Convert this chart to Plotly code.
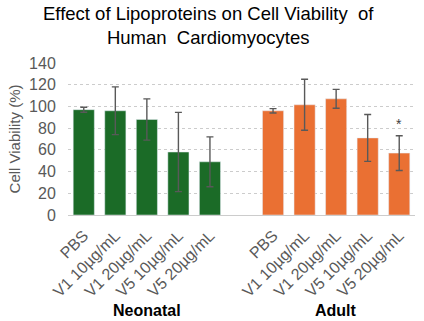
import plotly.graph_objects as go

groups = ["Neonatal", "Adult"]
treatments = ["PBS", "V1 10µg/mL", "V1 20µg/mL", "V5 10µg/mL", "V5 20µg/mL"]
neonatal_vals = [97, 96, 88, 58, 49]
neonatal_err = [2.3, 22, 19, 36.5, 23]
adult_vals = [96, 101.5, 107, 71, 57]
adult_err = [2, 23.5, 8.7, 21.6, 16]
y_ticks = [0, 20, 40, 60, 80, 100, 120, 140]

neo_x = list(range(0, 5))
adu_x = list(range(6, 11))

FONT = "Liberation Sans, Arial, sans-serif"
GRAY = "#595959"

fig = go.Figure()
fig.add_trace(go.Bar(
    x=neo_x, y=neonatal_vals, marker_color="#1b6b27", width=0.67,
    error_y=dict(type="data", array=neonatal_err, color=GRAY, thickness=1.4, width=3.5),
    showlegend=False))
fig.add_trace(go.Bar(
    x=adu_x, y=adult_vals, marker_color="#ea7033", width=0.67,
    error_y=dict(type="data", array=adult_err, color=GRAY, thickness=1.4, width=3.5),
    showlegend=False))

fig.add_annotation(x=adu_x[-1], y=adult_vals[-1] + adult_err[-1] + 2, text="*",
                   showarrow=False, font=dict(family=FONT, size=14, color="#404040"),
                   xref="x", yref="y", yanchor="bottom")

for gx, g in zip([2, 8], groups):
    fig.add_annotation(x=gx, y=0, xref="x", yref="paper", yshift=-95, text="<b>%s</b>" % g,
                       showarrow=False, yanchor="middle",
                       font=dict(family=FONT, size=16, color="black"))

fig.add_annotation(x=0.405, y=1.25, xref="paper", yref="paper",
                   text="Effect of Lipoproteins on Cell Viability  of<br>Human  Cardiomyocytes",
                   showarrow=False, xanchor="center", yanchor="middle",
                   font=dict(family=FONT, size=18.5, color="black"))

fig.update_layout(
    width=424, height=321,
    margin=dict(l=68, r=9, t=63, b=106),
    paper_bgcolor="white", plot_bgcolor="white",
    xaxis=dict(tickmode="array", tickvals=neo_x + adu_x, ticktext=treatments + treatments,
               tickangle=-45, range=[-0.5, 10.5], showgrid=False, zeroline=False,
               showline=False, ticks="outside", ticklen=4, tickcolor="rgba(0,0,0,0)",
               tickfont=dict(family=FONT, size=16, color=GRAY)),
    yaxis=dict(range=[0, 140], tickvals=y_ticks, showgrid=True, gridcolor="#cccccc",
               griddash="dot", zeroline=True, zerolinecolor="#cccccc", zerolinewidth=1,
               ticks="outside", ticklen=8, tickcolor="rgba(0,0,0,0)",
               tickfont=dict(family=FONT, size=16, color=GRAY),
               title=dict(text="Cell Viability (%)", font=dict(family=FONT, size=15, color=GRAY),
                          standoff=4)),
)

fig.write_html("out.html")
